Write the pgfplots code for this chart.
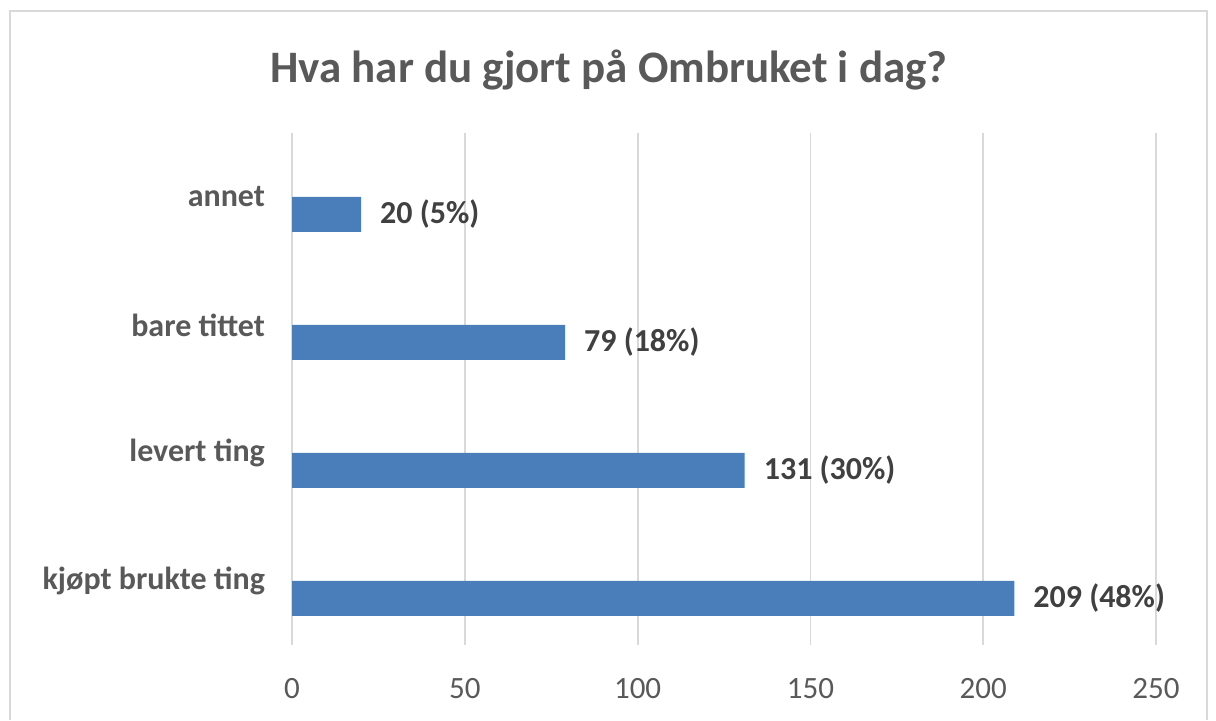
\documentclass[border=0pt]{standalone}
\usepackage{pgfplots}
\pgfplotsset{compat=1.18}
\usepackage{fontspec}
\setmainfont{Carlito}
\definecolor{barblue}{HTML}{4A7EBB}
\definecolor{gridgrey}{HTML}{D9D9D9}
\definecolor{txtgrey}{HTML}{595959}
\definecolor{lblgrey}{HTML}{404040}
\begin{document}
\begin{tikzpicture}
  % page size 1216x720 px at 0.5pt per px
  \path (0pt,0pt) rectangle (608pt,360pt);
  \draw[gridgrey, line width=1pt] (5pt,0pt) -- (5pt,354.5pt) -- (603.5pt,354.5pt) -- (603.5pt,0pt);
  \node[font=\bfseries\fontsize{22.5}{26}\selectfont, text=txtgrey] at (304.5pt,325pt)
    {Hva har du gjort på Ombruket i dag?};
  \begin{axis}[
      at={(146pt,37.5pt)}, anchor=south west,
      scale only axis, width=432pt, height=256pt,
      xbar,
      bar width=17.5pt,
      bar shift=-8.75pt,
      xmin=0, xmax=250,
      ymin=-0.5, ymax=3.5,
      xtick={0,50,...,250},
      ytick={0,1,2,3},
      yticklabels={kjøpt brukte ting, levert ting, bare tittet, annet},
      axis line style={draw=none},
      major tick length=0pt,
      xmajorgrids,
      grid style={gridgrey, line width=0.9pt},
      tick label style={text=txtgrey, font=\fontsize{15.5}{18}\selectfont},
      yticklabel style={font=\bfseries\fontsize{16}{19}\selectfont, xshift=-10pt},
      xticklabel style={yshift=-13pt},
      /pgf/number format/assume math mode=true,
      point meta=explicit symbolic,
      nodes near coords,
      every node near coord/.append style={anchor=west, xshift=6pt,
        text=lblgrey, font=\bfseries\fontsize{16}{19}\selectfont},
      clip=false,
    ]
    \addplot[fill=barblue, draw=none] coordinates {
      (209,0) [209 (48\%)]
      (131,1) [131 (30\%)]
      (79,2) [79 (18\%)]
      (20,3) [20 (5\%)]
    };
  \end{axis}
\end{tikzpicture}
\end{document}
